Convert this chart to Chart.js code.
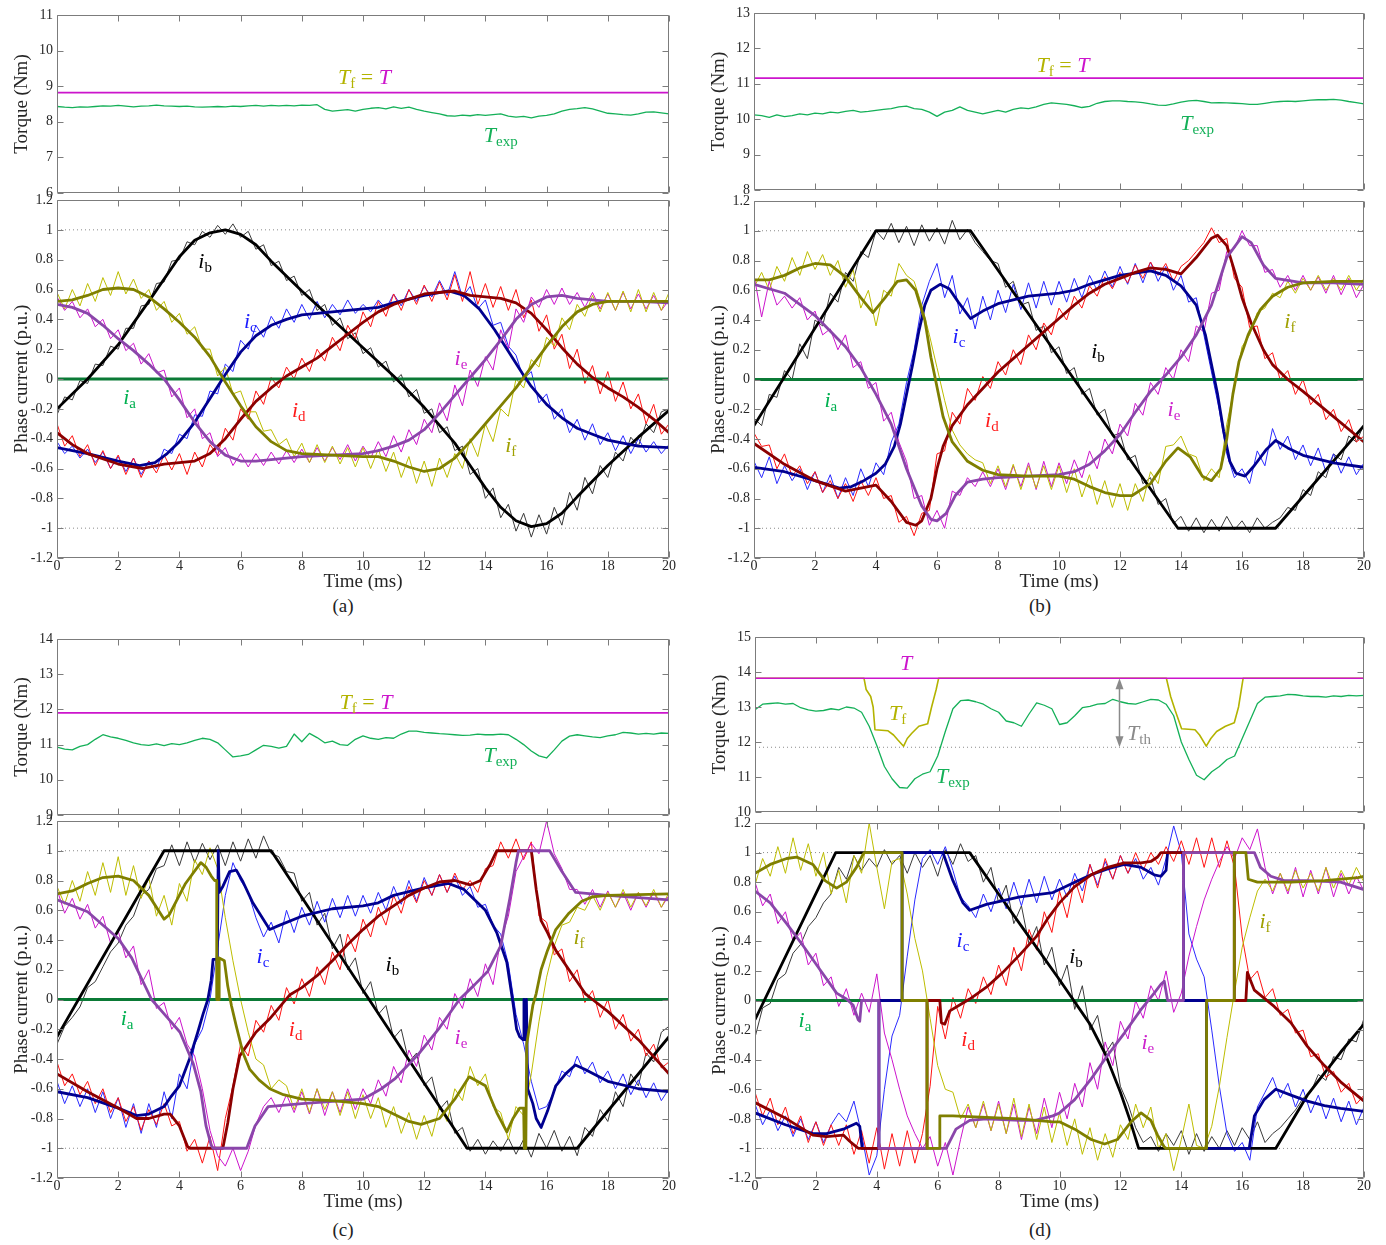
<!DOCTYPE html>
<html>
<head>
<meta charset="utf-8">
<title>Phase currents and torque</title>
<script src="https://cdn.jsdelivr.net/npm/chart.js@4.4.1/dist/chart.umd.min.js"></script>
<style>
  html, body { margin: 0; padding: 0; background: #fff; }
  body { position: relative; width: 1386px; height: 1245px; overflow: hidden; font-family: "Liberation Serif", "Times New Roman", serif; }
  canvas { position: absolute; }
  .caption { position: absolute; font-size: 19px; color: #222; transform: translate(-50%, -50%); }
</style>
</head>
<body>
<div class="caption" style="left:343px; top:606px">(a)</div>
<div class="caption" style="left:1040px; top:606px">(b)</div>
<div class="caption" style="left:343px; top:1230px">(c)</div>
<div class="caption" style="left:1040px; top:1230px">(d)</div>
<script>
// sample times of the measured (noisy) traces, ms
const tFine = [
  0, 0.25, 0.5, 0.75, 1, 1.25, 1.5, 1.75, 2, 2.25,
  2.5, 2.75, 3, 3.25, 3.5, 3.75, 4, 4.25, 4.5, 4.75,
  5, 5.25, 5.5, 5.75, 6, 6.25, 6.5, 6.75, 7, 7.25,
  7.5, 7.75, 8, 8.25, 8.5, 8.75, 9, 9.25, 9.5, 9.75,
  10, 10.25, 10.5, 10.75, 11, 11.25, 11.5, 11.75, 12, 12.25,
  12.5, 12.75, 13, 13.25, 13.5, 13.75, 14, 14.25, 14.5, 14.75,
  15, 15.25, 15.5, 15.75, 16, 16.25, 16.5, 16.75, 17, 17.25,
  17.5, 17.75, 18, 18.25, 18.5, 18.75, 19, 19.25, 19.5, 19.75,
  20
];

// open phase a: zero current in every case
const iaRef = [[0, 0], [20, 0]];
const unitLevels = [1, -1];

// ---------- (a) ----------
const aTorqueRef = 8.82;
const aTexp = [
  8.43, 8.41, 8.40, 8.42, 8.41, 8.43, 8.45, 8.44, 8.46, 8.44,
  8.42, 8.44, 8.45, 8.47, 8.45, 8.44, 8.43, 8.44, 8.42, 8.41,
  8.42, 8.43, 8.42, 8.44, 8.43, 8.45, 8.46, 8.44, 8.46, 8.45,
  8.46, 8.45, 8.47, 8.46, 8.48, 8.35, 8.30, 8.32, 8.34, 8.30,
  8.35, 8.38, 8.40, 8.36, 8.42, 8.38, 8.41, 8.35, 8.30, 8.26,
  8.22, 8.17, 8.16, 8.19, 8.17, 8.20, 8.18, 8.20, 8.22, 8.16,
  8.13, 8.15, 8.11, 8.16, 8.18, 8.22, 8.30, 8.35, 8.37, 8.40,
  8.36, 8.30, 8.24, 8.22, 8.20, 8.19, 8.22, 8.27, 8.28, 8.25,
  8.22
];
const aIbRef = [[0,-0.2],[1,0],[2,0.23],[3,0.52],[4,0.82],[4.5,0.93],[5,0.98],[5.5,1],[6,0.97],[6.5,0.9],[7,0.79],[8,0.59],[9,0.4],[10,0.21],[11,0.02],[12,-0.19],[13,-0.43],[13.5,-0.58],[14,-0.73],[14.5,-0.86],[15,-0.95],[15.5,-0.99],[16,-0.97],[16.5,-0.9],[17,-0.79],[18,-0.58],[19,-0.39],[20,-0.21]];
const aIcRef = [[0,-0.46],[1,-0.5],[2,-0.55],[2.7,-0.58],[3.2,-0.56],[3.6,-0.5],[4,-0.42],[4.5,-0.29],[5,-0.13],[5.5,0.03],[6,0.18],[6.5,0.29],[7,0.36],[7.5,0.4],[8,0.43],[9,0.45],[10,0.47],[10.5,0.48],[11,0.51],[12,0.56],[12.8,0.59],[13.3,0.56],[13.8,0.47],[14.3,0.33],[14.8,0.17],[15.2,0.04],[15.5,-0.05],[16,-0.17],[16.5,-0.26],[17,-0.33],[17.5,-0.37],[18,-0.41],[19,-0.45],[20,-0.46]];
const aIdRef = [[0,-0.36],[0.5,-0.44],[1,-0.5],[2,-0.57],[2.8,-0.6],[3.5,-0.57],[4,-0.56],[4.5,-0.55],[5,-0.5],[5.5,-0.4],[6,-0.27],[6.5,-0.15],[7,-0.06],[7.5,0.02],[8,0.08],[8.5,0.14],[9,0.22],[9.5,0.3],[10,0.38],[10.5,0.45],[11,0.5],[12,0.57],[13,0.59],[13.5,0.56],[14,0.55],[14.5,0.54],[15,0.51],[15.5,0.44],[16,0.33],[16.5,0.21],[17,0.1],[17.5,0.01],[18,-0.06],[18.5,-0.12],[19,-0.19],[19.5,-0.27],[20,-0.36]];
const aIeRef = [[0,0.5],[0.5,0.48],[1,0.44],[1.5,0.36],[2,0.27],[2.5,0.19],[3,0.1],[3.5,0],[4,-0.14],[4.5,-0.29],[5,-0.42],[5.5,-0.51],[6,-0.55],[6.5,-0.55],[7,-0.54],[8,-0.52],[9,-0.51],[10,-0.5],[10.5,-0.48],[11,-0.45],[11.5,-0.41],[12,-0.34],[12.5,-0.23],[13,-0.11],[13.5,0.01],[14,0.13],[14.5,0.26],[15,0.4],[15.5,0.5],[16,0.55],[16.5,0.56],[17,0.54],[18,0.52],[19,0.52],[20,0.51]];
const aIfRef = [[0,0.52],[0.5,0.53],[1,0.56],[1.5,0.6],[2,0.61],[2.5,0.6],[3,0.55],[3.5,0.47],[4,0.38],[4.5,0.28],[5,0.15],[5.5,-0.02],[6,-0.18],[6.5,-0.32],[7,-0.42],[7.5,-0.48],[8,-0.5],[9,-0.51],[10,-0.52],[10.5,-0.52],[11,-0.55],[11.5,-0.59],[12,-0.62],[12.5,-0.6],[13,-0.53],[13.5,-0.42],[14,-0.3],[14.5,-0.18],[15,-0.06],[15.5,0.08],[16,0.22],[16.5,0.35],[17,0.45],[17.5,0.5],[18,0.52],[20,0.52]];
const aIbMeas = [
  -0.24, -0.12, -0.14, -0.01, -0.03, 0.10, 0.09, 0.22, 0.20, 0.34,
  0.34, 0.49, 0.50, 0.64, 0.65, 0.79, 0.80, 0.92, 0.90, 0.99,
  0.95, 1.03, 0.97, 1.04, 0.95, 0.99, 0.87, 0.90, 0.76, 0.79,
  0.66, 0.69, 0.56, 0.60, 0.46, 0.50, 0.36, 0.41, 0.27, 0.31,
  0.17, 0.21, 0.08, 0.12, -0.02, 0.03, -0.12, -0.07, -0.23, -0.20,
  -0.36, -0.32, -0.48, -0.45, -0.64, -0.60, -0.80, -0.73, -0.93, -0.84,
  -1.02, -0.90, -1.06, -0.91, -1.04, -0.86, -0.98, -0.76, -0.88, -0.66,
  -0.77, -0.58, -0.66, -0.49, -0.55, -0.39, -0.45, -0.30, -0.36, -0.22,
  -0.20
];
const aIcMeas = [
  -0.42, -0.50, -0.45, -0.53, -0.47, -0.56, -0.49, -0.60, -0.52, -0.62,
  -0.53, -0.64, -0.55, -0.60, -0.47, -0.50, -0.37, -0.40, -0.24, -0.25,
  -0.08, -0.10, 0.10, 0.05, 0.26, 0.20, 0.36, 0.28, 0.42, 0.34,
  0.47, 0.38, 0.50, 0.40, 0.52, 0.41, 0.50, 0.43, 0.53, 0.44,
  0.50, 0.45, 0.53, 0.47, 0.57, 0.49, 0.60, 0.52, 0.62, 0.55,
  0.66, 0.56, 0.72, 0.55, 0.62, 0.47, 0.53, 0.36, 0.38, 0.22,
  0.16, 0.00, 0.05, -0.16, -0.10, -0.27, -0.20, -0.36, -0.27, -0.41,
  -0.30, -0.44, -0.36, -0.48, -0.38, -0.50, -0.40, -0.49, -0.42, -0.50,
  -0.44
];
const aIdMeas = [
  -0.30, -0.45, -0.38, -0.52, -0.44, -0.58, -0.48, -0.60, -0.51, -0.64,
  -0.53, -0.66, -0.55, -0.63, -0.51, -0.61, -0.50, -0.64, -0.49, -0.59,
  -0.44, -0.51, -0.33, -0.41, -0.20, -0.27, -0.08, -0.17, 0.01, -0.06,
  0.08, 0.00, 0.14, 0.05, 0.20, 0.12, 0.28, 0.19, 0.36, 0.27,
  0.45, 0.35, 0.52, 0.42, 0.57, 0.46, 0.60, 0.50, 0.63, 0.52,
  0.65, 0.53, 0.70, 0.52, 0.72, 0.50, 0.64, 0.48, 0.62, 0.46,
  0.60, 0.41, 0.53, 0.32, 0.43, 0.20, 0.30, 0.07, 0.20, -0.03,
  0.09, -0.10, 0.05, -0.15, -0.02, -0.20, -0.10, -0.30, -0.17, -0.37,
  -0.30
];
const aIeMeas = [
  0.55, 0.46, 0.52, 0.41, 0.47, 0.35, 0.40, 0.27, 0.33, 0.19,
  0.24, 0.10, 0.17, 0.04, 0.06, -0.12, -0.06, -0.26, -0.20, -0.40,
  -0.36, -0.52, -0.46, -0.58, -0.50, -0.59, -0.50, -0.58, -0.49, -0.57,
  -0.48, -0.56, -0.47, -0.56, -0.46, -0.55, -0.46, -0.54, -0.44, -0.55,
  -0.45, -0.53, -0.42, -0.52, -0.38, -0.49, -0.34, -0.44, -0.27, -0.36,
  -0.16, -0.28, -0.04, -0.18, 0.06, -0.05, 0.15, 0.06, 0.33, 0.20,
  0.47, 0.38, 0.55, 0.48, 0.60, 0.50, 0.61, 0.50, 0.58, 0.48,
  0.58, 0.47, 0.57, 0.46, 0.58, 0.47, 0.57, 0.47, 0.56, 0.46,
  0.53
];
const aIfMeas = [
  0.58, 0.47, 0.60, 0.49, 0.64, 0.52, 0.68, 0.56, 0.72, 0.57,
  0.67, 0.54, 0.60, 0.46, 0.52, 0.38, 0.44, 0.30, 0.35, 0.20,
  0.20, 0.02, 0.08, -0.10, -0.08, -0.22, -0.22, -0.35, -0.34, -0.44,
  -0.40, -0.52, -0.43, -0.56, -0.44, -0.56, -0.45, -0.57, -0.46, -0.59,
  -0.46, -0.60, -0.47, -0.62, -0.49, -0.66, -0.52, -0.70, -0.55, -0.72,
  -0.53, -0.66, -0.50, -0.60, -0.40, -0.52, -0.30, -0.42, -0.20, -0.25,
  0.00, -0.06, 0.13, 0.08, 0.28, 0.22, 0.41, 0.33, 0.50, 0.42,
  0.56, 0.45, 0.58, 0.46, 0.59, 0.45, 0.60, 0.45, 0.58, 0.46,
  0.58
];

// ---------- (b) ----------
const bTorqueRef = 11.16;
const bTexp = [
  10.12, 10.10, 10.05, 10.12, 10.07, 10.10, 10.15, 10.12, 10.17, 10.15,
  10.20, 10.18, 10.22, 10.25, 10.20, 10.22, 10.25, 10.28, 10.30, 10.35,
  10.37, 10.30, 10.28, 10.20, 10.08, 10.20, 10.25, 10.35, 10.25, 10.20,
  10.15, 10.20, 10.25, 10.20, 10.28, 10.32, 10.30, 10.35, 10.42, 10.46,
  10.44, 10.42, 10.38, 10.33, 10.36, 10.45, 10.50, 10.52, 10.52, 10.50,
  10.49, 10.47, 10.43, 10.40, 10.39, 10.43, 10.48, 10.52, 10.53, 10.50,
  10.46, 10.47, 10.46, 10.45, 10.44, 10.42, 10.42, 10.45, 10.48, 10.50,
  10.51, 10.50, 10.52, 10.54, 10.55, 10.55, 10.56, 10.54, 10.50, 10.47,
  10.43
];
const bIbRef = [[0,-0.31],[4,1],[7.1,1],[13.9,-1],[17.1,-1],[20,-0.31]];
const bIcRef = [[0,-0.59],[1,-0.62],[2,-0.68],[2.8,-0.73],[3.2,-0.72],[3.6,-0.68],[4,-0.63],[4.3,-0.57],[4.6,-0.45],[4.8,-0.3],[5,-0.1],[5.2,0.1],[5.4,0.32],[5.6,0.5],[5.8,0.6],[6.1,0.64],[6.4,0.61],[6.7,0.52],[7.1,0.41],[7.5,0.46],[8,0.51],[9,0.56],[10,0.58],[10.5,0.6],[11,0.64],[12,0.7],[13,0.73],[13.5,0.7],[14,0.63],[14.5,0.5],[14.8,0.3],[15,0.1],[15.2,-0.1],[15.4,-0.35],[15.6,-0.55],[15.8,-0.63],[16.1,-0.65],[16.4,-0.58],[16.8,-0.47],[17.1,-0.41],[17.5,-0.46],[18,-0.51],[19,-0.56],[20,-0.59]];
const bIdRef = [[0,-0.43],[1,-0.57],[2,-0.68],[3,-0.75],[3.5,-0.73],[4,-0.71],[4.5,-0.82],[5,-0.96],[5.3,-0.98],[5.5,-0.95],[5.8,-0.8],[6,-0.6],[6.2,-0.45],[6.5,-0.31],[7,-0.17],[7.5,-0.06],[8,0.05],[8.5,0.14],[9,0.23],[9.5,0.32],[10,0.41],[10.5,0.5],[11,0.58],[11.5,0.64],[12,0.68],[12.5,0.72],[13,0.75],[13.5,0.74],[14,0.71],[14.5,0.82],[15,0.95],[15.2,0.97],[15.5,0.9],[15.8,0.7],[16,0.55],[16.3,0.38],[16.7,0.2],[17,0.1],[17.5,0],[18,-0.08],[19,-0.25],[20,-0.42]];
const bIeRef = [[0,0.64],[1,0.58],[2,0.43],[3,0.22],[3.5,0.08],[4,-0.1],[4.5,-0.3],[5,-0.6],[5.5,-0.85],[5.8,-0.94],[6,-0.95],[6.3,-0.9],[6.6,-0.78],[7,-0.69],[7.5,-0.67],[8,-0.66],[9,-0.65],[10,-0.64],[10.5,-0.62],[11,-0.57],[11.5,-0.48],[12,-0.37],[12.5,-0.22],[13,-0.08],[13.5,0.03],[14,0.15],[14.5,0.3],[15,0.5],[15.5,0.82],[16,0.96],[16.3,0.92],[16.7,0.77],[17.1,0.68],[18,0.65],[19,0.65],[20,0.64]];
const bIfRef = [[0,0.67],[0.5,0.67],[1,0.7],[1.5,0.75],[2,0.78],[2.5,0.77],[3,0.69],[3.5,0.55],[3.9,0.45],[4.3,0.55],[4.7,0.66],[5,0.67],[5.3,0.6],[5.6,0.4],[5.8,0.15],[6,-0.05],[6.2,-0.25],[6.5,-0.42],[7,-0.55],[7.5,-0.61],[8,-0.64],[9,-0.65],[10,-0.65],[10.5,-0.67],[11,-0.72],[11.5,-0.76],[12,-0.78],[12.4,-0.78],[13,-0.7],[13.5,-0.55],[13.9,-0.46],[14.3,-0.52],[14.7,-0.65],[15,-0.68],[15.3,-0.6],[15.5,-0.4],[15.7,-0.1],[15.9,0.12],[16.2,0.3],[16.6,0.47],[17,0.56],[17.5,0.62],[18,0.65],[19,0.66],[20,0.66]];
const bIbMeas = [
  -0.26, -0.31, -0.10, -0.12, 0.06, 0.00, 0.24, 0.14, 0.40, 0.36,
  0.58, 0.52, 0.72, 0.66, 0.86, 0.82, 1.00, 0.94, 1.05, 0.92,
  1.03, 0.90, 1.04, 0.93, 1.02, 0.91, 1.07, 0.94, 1.01, 0.92,
  0.86, 0.80, 0.78, 0.62, 0.66, 0.50, 0.52, 0.33, 0.36, 0.18,
  0.22, 0.04, 0.08, -0.10, -0.06, -0.24, -0.20, -0.38, -0.36, -0.54,
  -0.51, -0.70, -0.66, -0.84, -0.80, -0.97, -0.92, -1.02, -0.93, -1.03,
  -0.94, -1.02, -0.92, -1.01, -0.95, -1.03, -0.93, -1.00, -0.96, -0.93,
  -0.86, -0.88, -0.74, -0.78, -0.62, -0.66, -0.50, -0.54, -0.38, -0.42,
  -0.30
];
const bIcMeas = [
  -0.55, -0.66, -0.52, -0.70, -0.58, -0.68, -0.60, -0.74, -0.62, -0.76,
  -0.64, -0.80, -0.66, -0.78, -0.60, -0.72, -0.56, -0.64, -0.42, -0.30,
  -0.02, 0.20, 0.50, 0.66, 0.78, 0.55, 0.70, 0.44, 0.55, 0.34,
  0.56, 0.40, 0.60, 0.45, 0.64, 0.47, 0.65, 0.48, 0.66, 0.50,
  0.66, 0.52, 0.68, 0.55, 0.70, 0.60, 0.73, 0.62, 0.76, 0.64,
  0.78, 0.65, 0.79, 0.66, 0.76, 0.60, 0.70, 0.52, 0.55, 0.30,
  0.05, -0.20, -0.50, -0.66, -0.60, -0.70, -0.48, -0.58, -0.33, -0.47,
  -0.38, -0.54, -0.44, -0.58, -0.46, -0.62, -0.50, -0.63, -0.52, -0.64,
  -0.56
];
const bIdMeas = [
  -0.36, -0.45, -0.44, -0.60, -0.50, -0.65, -0.58, -0.70, -0.62, -0.76,
  -0.68, -0.80, -0.70, -0.82, -0.68, -0.78, -0.66, -0.80, -0.78, -0.96,
  -0.92, -1.05, -0.90, -0.88, -0.50, -0.48, -0.22, -0.30, -0.06, -0.14,
  0.02, -0.06, 0.12, 0.03, 0.20, 0.10, 0.30, 0.20, 0.38, 0.30,
  0.48, 0.40, 0.56, 0.48, 0.63, 0.56, 0.69, 0.61, 0.72, 0.65,
  0.77, 0.68, 0.79, 0.70, 0.78, 0.66, 0.76, 0.80, 0.86, 0.92,
  1.02, 0.92, 0.95, 0.68, 0.62, 0.35, 0.36, 0.14, 0.18, 0.00,
  0.06, -0.10, 0.00, -0.17, -0.10, -0.27, -0.20, -0.35, -0.27, -0.42,
  -0.38
];
const bIeMeas = [
  0.70, 0.42, 0.66, 0.50, 0.56, 0.48, 0.55, 0.40, 0.46, 0.30,
  0.34, 0.20, 0.30, 0.08, 0.12, -0.06, -0.02, -0.28, -0.22, -0.42,
  -0.55, -0.80, -0.78, -0.98, -0.88, -1.00, -0.75, -0.78, -0.66, -0.72,
  -0.62, -0.72, -0.60, -0.74, -0.58, -0.72, -0.56, -0.74, -0.55, -0.72,
  -0.56, -0.70, -0.54, -0.66, -0.48, -0.60, -0.40, -0.50, -0.30, -0.38,
  -0.16, -0.24, -0.02, -0.10, 0.08, 0.00, 0.20, 0.12, 0.36, 0.32,
  0.58, 0.60, 0.86, 0.88, 1.00, 0.90, 0.90, 0.72, 0.74, 0.62,
  0.70, 0.60, 0.70, 0.60, 0.69, 0.58, 0.70, 0.57, 0.68, 0.55,
  0.64
];
const bIfMeas = [
  0.62, 0.72, 0.60, 0.76, 0.66, 0.82, 0.70, 0.86, 0.74, 0.84,
  0.70, 0.80, 0.62, 0.74, 0.48, 0.60, 0.36, 0.60, 0.56, 0.78,
  0.70, 0.66, 0.50, 0.30, 0.08, -0.14, -0.34, -0.44, -0.50, -0.54,
  -0.56, -0.70, -0.58, -0.72, -0.57, -0.74, -0.58, -0.73, -0.58, -0.74,
  -0.58, -0.76, -0.60, -0.79, -0.64, -0.84, -0.68, -0.86, -0.70, -0.88,
  -0.70, -0.82, -0.62, -0.70, -0.45, -0.44, -0.38, -0.50, -0.52, -0.68,
  -0.60, -0.66, -0.30, -0.05, 0.22, 0.30, 0.45, 0.48, 0.58, 0.55,
  0.66, 0.58, 0.68, 0.60, 0.70, 0.60, 0.68, 0.60, 0.70, 0.60,
  0.68
];

// ---------- (c) ----------
const cTorqueRef = 11.9;
const cTexp = [
  10.93, 10.87, 10.85, 10.95, 11.00, 11.15, 11.28, 11.22, 11.18, 11.12,
  11.05, 11.00, 10.98, 11.02, 10.97, 11.03, 11.00, 11.05, 11.12, 11.18,
  11.15, 11.05, 10.85, 10.65, 10.68, 10.72, 10.85, 10.98, 10.95, 10.90,
  10.95, 11.30, 11.08, 11.32, 11.20, 11.05, 11.10, 11.00, 10.98, 11.15,
  11.25, 11.18, 11.15, 11.20, 11.18, 11.30, 11.38, 11.38, 11.35, 11.33,
  11.31, 11.30, 11.28, 11.26, 11.27, 11.30, 11.28, 11.28, 11.30, 11.28,
  11.15, 11.00, 10.82, 10.68, 10.62, 10.85, 11.10, 11.24, 11.28, 11.25,
  11.22, 11.20, 11.25, 11.28, 11.35, 11.33, 11.30, 11.32, 11.30, 11.33,
  11.32
];
const cIbRef = [[0,-0.25],[3.5,1],[7,1],[13.4,-1],[17,-1],[20,-0.25]];
const cIcRef = [[0,-0.62],[1,-0.66],[2,-0.73],[2.6,-0.78],[3,-0.77],[3.5,-0.72],[3.7,-0.66],[4,-0.58],[4.33,-0.4],[4.6,-0.22],[4.77,-0.1],[4.93,0],[5.04,0.13],[5.1,0.27],[5.24,0.27],[5.27,1],[5.3,0.72],[5.42,0.76],[5.64,0.86],[5.86,0.87],[6.08,0.79],[6.4,0.65],[6.95,0.47],[7.28,0.5],[8,0.56],[9,0.61],[10,0.63],[10.5,0.65],[11,0.7],[12,0.75],[12.8,0.78],[13.3,0.74],[14,0.6],[14.37,0.45],[14.7,0.25],[14.9,-0.02],[15.02,-0.2],[15.12,-0.25],[15.23,-0.27],[15.26,0],[15.3,-0.27],[15.34,0],[15.38,-0.6],[15.55,-0.7],[15.66,-0.8],[15.82,-0.86],[16.03,-0.75],[16.3,-0.58],[16.62,-0.5],[16.94,-0.44],[17.26,-0.47],[18,-0.55],[19,-0.6],[20,-0.62]];
const cIdRef = [[0,-0.5],[1,-0.62],[2,-0.73],[2.6,-0.8],[3,-0.8],[3.5,-0.77],[3.7,-0.77],[4,-0.85],[4.27,-0.99],[4.35,-1],[5.42,-1],[5.58,-0.83],[5.75,-0.6],[5.97,-0.38],[6.2,-0.31],[6.5,-0.22],[6.95,-0.13],[7.6,0.03],[8,0.08],[8.5,0.16],[9,0.26],[9.5,0.37],[10,0.47],[10.5,0.56],[11,0.63],[11.5,0.7],[12,0.75],[12.5,0.79],[13,0.8],[13.5,0.77],[13.84,0.8],[14.16,0.91],[14.37,1],[15.5,1],[15.66,0.74],[15.82,0.53],[16.03,0.45],[16.3,0.33],[16.73,0.2],[17.26,0.04],[17.5,0],[18,-0.08],[19,-0.27],[20,-0.5]];
const cIeRef = [[0,0.67],[1,0.59],[2,0.41],[2.44,0.28],[3.09,0],[3.6,-0.12],[4.02,-0.22],[4.45,-0.43],[4.7,-0.62],[4.87,-0.85],[5.04,-0.98],[5.1,-1],[6.2,-1],[6.47,-0.85],[6.9,-0.72],[8,-0.7],[10,-0.67],[10.6,-0.6],[11.06,-0.53],[11.8,-0.37],[12.5,-0.19],[13.15,0],[13.65,0.1],[14.08,0.19],[14.5,0.36],[14.8,0.68],[15,0.92],[15.08,1],[16.1,1],[16.5,0.86],[16.95,0.72],[18,0.7],[20,0.67]];
const cIfRef = [[0,0.71],[0.5,0.73],[1,0.78],[1.5,0.82],[2,0.83],[2.5,0.8],[3,0.7],[3.5,0.54],[3.67,0.57],[4.2,0.78],[4.7,0.92],[4.87,0.89],[5.04,0.83],[5.15,0.8],[5.22,0.8],[5.22,0],[5.3,0],[5.3,0.28],[5.47,0.26],[5.58,0.09],[5.7,-0.04],[5.86,-0.18],[6.08,-0.36],[6.3,-0.47],[6.6,-0.54],[6.95,-0.6],[7.4,-0.64],[8,-0.67],[9,-0.68],[10,-0.7],[10.5,-0.72],[11,-0.77],[11.5,-0.82],[11.9,-0.84],[12.5,-0.8],[13,-0.67],[13.47,-0.52],[14,-0.58],[14.37,-0.76],[14.7,-0.89],[14.9,-0.8],[15.12,-0.73],[15.25,-0.73],[15.27,-1],[15.32,-1],[15.35,-0.3],[15.55,-0.04],[15.66,0.04],[15.82,0.2],[16.03,0.33],[16.3,0.47],[16.73,0.58],[17.15,0.66],[17.5,0.69],[18,0.7],[20,0.71]];
const cIbMeas = [
  -0.30, -0.18, -0.12, -0.05, 0.08, 0.12, 0.22, 0.32, 0.38, 0.50,
  0.56, 0.70, 0.74, 0.88, 0.90, 1.04, 0.90, 1.06, 0.92, 1.05,
  0.94, 1.04, 0.90, 1.06, 0.93, 1.08, 0.95, 1.10, 0.98, 0.96,
  0.86, 0.85, 0.66, 0.72, 0.50, 0.58, 0.34, 0.44, 0.20, 0.28,
  0.04, 0.12, -0.10, -0.04, -0.26, -0.20, -0.42, -0.36, -0.58, -0.52,
  -0.74, -0.68, -0.90, -0.86, -1.02, -0.94, -1.04, -0.95, -1.02, -0.93,
  -1.04, -0.94, -1.06, -0.90, -1.00, -0.88, -1.02, -0.92, -1.05, -0.86,
  -0.92, -0.74, -0.82, -0.62, -0.72, -0.50, -0.58, -0.36, -0.42, -0.22,
  -0.18
];
const cIcMeas = [
  -0.55, -0.70, -0.58, -0.72, -0.60, -0.76, -0.62, -0.80, -0.66, -0.86,
  -0.70, -0.90, -0.70, -0.86, -0.62, -0.80, -0.50, -0.60, -0.30, -0.20,
  0.00, 0.35, 0.70, 0.92, 0.80, 0.72, 0.55, 0.42, 0.52, 0.38,
  0.60, 0.45, 0.62, 0.50, 0.66, 0.52, 0.68, 0.55, 0.70, 0.56,
  0.70, 0.58, 0.72, 0.60, 0.76, 0.64, 0.80, 0.66, 0.82, 0.70,
  0.84, 0.72, 0.83, 0.70, 0.76, 0.62, 0.64, 0.50, 0.44, 0.24,
  -0.10, -0.30, -0.55, -0.74, -0.72, -0.62, -0.48, -0.52, -0.38, -0.50,
  -0.42, -0.56, -0.48, -0.60, -0.50, -0.64, -0.54, -0.66, -0.56, -0.68,
  -0.60
];
const cIdMeas = [
  -0.42, -0.58, -0.50, -0.64, -0.55, -0.70, -0.60, -0.76, -0.66, -0.82,
  -0.72, -0.88, -0.74, -0.84, -0.70, -0.85, -0.82, -1.02, -0.94, -1.10,
  -0.92, -1.15, -0.80, -0.58, -0.30, -0.38, -0.14, -0.22, -0.04, -0.14,
  0.08, -0.03, 0.14, 0.02, 0.22, 0.10, 0.32, 0.20, 0.44, 0.32,
  0.54, 0.42, 0.62, 0.50, 0.70, 0.58, 0.76, 0.65, 0.80, 0.70,
  0.84, 0.72, 0.85, 0.74, 0.80, 0.72, 0.88, 0.90, 1.06, 0.95,
  1.08, 0.94, 1.06, 0.56, 0.52, 0.30, 0.34, 0.12, 0.20, -0.02,
  0.06, -0.12, 0.00, -0.20, -0.10, -0.28, -0.20, -0.38, -0.30, -0.46,
  -0.42
];
const cIeMeas = [
  0.74, 0.58, 0.68, 0.54, 0.64, 0.48, 0.56, 0.38, 0.46, 0.28,
  0.36, 0.10, 0.20, -0.06, -0.02, -0.20, -0.12, -0.30, -0.38, -0.60,
  -0.88, -1.05, -1.12, -1.00, -1.15, -1.02, -0.84, -0.72, -0.66, -0.76,
  -0.64, -0.76, -0.62, -0.77, -0.60, -0.78, -0.62, -0.76, -0.60, -0.74,
  -0.60, -0.70, -0.54, -0.65, -0.45, -0.56, -0.34, -0.45, -0.24, -0.34,
  -0.12, -0.20, 0.04, -0.06, 0.14, 0.02, 0.24, 0.10, 0.40, 0.56,
  0.86, 0.96, 1.05, 0.98, 1.20, 0.98, 0.88, 0.74, 0.74, 0.64,
  0.74, 0.62, 0.73, 0.62, 0.72, 0.60, 0.72, 0.62, 0.72, 0.62,
  0.70
];
const cIfMeas = [
  0.76, 0.64, 0.80, 0.66, 0.86, 0.70, 0.92, 0.72, 0.96, 0.70,
  0.90, 0.68, 0.82, 0.56, 0.70, 0.50, 0.78, 0.66, 0.94, 0.84,
  1.02, 0.88, 0.55, 0.26, 0.00, -0.22, -0.40, -0.44, -0.60, -0.54,
  -0.58, -0.74, -0.60, -0.76, -0.60, -0.74, -0.62, -0.78, -0.62, -0.80,
  -0.64, -0.80, -0.66, -0.86, -0.72, -0.90, -0.76, -0.94, -0.78, -0.92,
  -0.72, -0.82, -0.60, -0.68, -0.45, -0.58, -0.50, -0.72, -0.76, -0.94,
  -0.72, -0.78, -0.50, -0.15, 0.15, 0.36, 0.50, 0.52, 0.62, 0.60,
  0.70, 0.60, 0.72, 0.62, 0.74, 0.62, 0.72, 0.63, 0.74, 0.62,
  0.72
];

// ---------- (d) ----------
const dTorqueRef = 13.82;
const dTorqueThreshold = 11.85;
const dTf = [[0,13.82],[3.58,13.82],[3.65,13.5],[3.8,13.3],[3.88,13.0],[3.94,12.35],[4.37,12.32],[4.55,12.2],[4.7,12.05],[4.88,11.88],[5.0,12.1],[5.15,12.25],[5.38,12.45],[5.67,12.52],[5.8,13.0],[5.95,13.5],[6.03,13.82],[13.51,13.82],[13.65,13.3],[13.8,12.9],[14.01,12.38],[14.45,12.35],[14.6,12.2],[14.82,11.88],[14.97,12.1],[15.16,12.3],[15.45,12.45],[15.74,12.55],[15.88,13.0],[16.03,13.82],[20,13.82]];
const dTexp = [
  12.92, 13.08, 13.10, 13.12, 13.08, 13.10, 12.98, 12.92, 12.88, 12.90,
  12.95, 12.92, 13.00, 12.97, 12.85, 12.45, 11.90, 11.30, 10.95, 10.70,
  10.68, 10.95, 11.08, 11.15, 11.60, 12.30, 12.95, 13.18, 13.20, 13.15,
  13.08, 12.95, 12.85, 12.60, 12.55, 12.45, 12.80, 13.12, 13.05, 12.95,
  12.50, 12.55, 12.75, 12.98, 13.02, 13.08, 13.10, 13.22, 13.15, 13.10,
  13.08, 13.15, 13.22, 13.20, 13.08, 12.75, 12.00, 11.50, 11.05, 10.92,
  11.15, 11.30, 11.50, 11.60, 12.10, 12.60, 13.10, 13.28, 13.30, 13.32,
  13.36, 13.35, 13.32, 13.30, 13.30, 13.28, 13.32, 13.30, 13.33, 13.32,
  13.33
];
const dIbRef = [[0,-0.13],[2.65,1],[7.05,1],[8,0.72],[9,0.43],[10,0.14],[11,-0.16],[11.5,-0.36],[12,-0.62],[12.3,-0.8],[12.6,-1],[17.1,-1],[18.14,-0.64],[19.23,-0.35],[20,-0.16]];
const dIcRef = [[0,-0.76],[1,-0.84],[1.9,-0.9],[2.35,-0.9],[2.9,-0.87],[3.33,-0.83],[3.44,-0.85],[3.52,-1],[4.07,-1],[4.07,0],[4.83,0],[4.83,1],[6.17,1],[6.5,0.81],[6.83,0.66],[7.05,0.61],[7.6,0.65],[8.7,0.7],[9.78,0.73],[10,0.75],[10.5,0.8],[11.04,0.85],[11.58,0.89],[12.13,0.92],[12.68,0.9],[13.11,0.85],[13.33,0.84],[13.5,0.88],[13.55,1],[14.07,1],[14.07,0],[14.83,0],[14.83,-1],[16.23,-1],[16.4,-0.78],[16.72,-0.67],[17.1,-0.6],[17.6,-0.64],[18.14,-0.68],[18.7,-0.71],[19.23,-0.73],[20,-0.75]];
const dIdRef = [[0,-0.69],[1.04,-0.8],[1.9,-0.91],[2.35,-0.92],[2.9,-0.91],[3.1,-0.95],[3.33,-0.99],[3.4,-1],[5.65,-1],[5.65,0],[6.07,0],[6.12,-0.15],[6.23,-0.16],[6.4,-0.07],[6.72,-0.03],[7.05,0.01],[7.6,0.09],[8.14,0.19],[8.7,0.31],[9.23,0.43],[9.6,0.55],[10,0.66],[10.5,0.77],[11.04,0.85],[11.58,0.9],[12.13,0.93],[12.68,0.93],[13,0.94],[13.22,0.97],[13.33,1],[15.74,1],[15.74,0],[16.12,0],[16.17,0.19],[16.4,0.07],[17.05,-0.04],[17.6,-0.15],[18.14,-0.31],[18.7,-0.44],[19.23,-0.55],[20,-0.68]];
const dIeRef = [[0,0.74],[0.5,0.66],[1.04,0.52],[1.58,0.37],[2.13,0.21],[2.68,0.05],[3,0.01],[3.22,-0.03],[3.39,-0.13],[3.44,-0.14],[3.5,0],[4.07,0],[4.07,-1],[6.28,-1],[6.6,-0.87],[7.05,-0.81],[7.6,-0.8],[8.7,-0.81],[9.2,-0.81],[9.78,-0.78],[10,-0.76],[10.5,-0.67],[11.04,-0.53],[11.58,-0.37],[12.13,-0.22],[12.68,-0.06],[13.11,0.05],[13.33,0.11],[13.44,0.13],[13.55,0],[14.07,0],[14.07,1],[16.4,1],[16.6,0.9],[16.94,0.84],[17.38,0.81],[18.14,0.81],[19.23,0.8],[20,0.75]];
const dIfRef = [[0,0.86],[0.5,0.92],[1.04,0.96],[1.37,0.97],[1.9,0.92],[2.3,0.81],[2.68,0.76],[3,0.8],[3.33,0.9],[3.55,0.99],[3.6,1],[4.83,1],[4.83,0],[5.65,0],[5.65,-1],[6.07,-1],[6.07,-0.78],[6.5,-0.78],[7.6,-0.79],[8.7,-0.8],[9.78,-0.82],[10,-0.82],[10.5,-0.87],[11.04,-0.94],[11.48,-0.97],[11.9,-0.94],[12.35,-0.82],[12.68,-0.76],[13,-0.81],[13.22,-0.91],[13.44,-0.99],[13.5,-1],[14.83,-1],[14.83,0],[15.74,0],[15.74,1],[16.12,1],[16.2,0.82],[16.5,0.8],[17.6,0.8],[18.7,0.81],[19.8,0.83],[20,0.84]];
const dIbMeas = [
  -0.25, -0.05, -0.02, 0.14, 0.18, 0.32, 0.38, 0.50, 0.56, 0.66,
  0.72, 0.90, 0.82, 0.98, 0.88, 0.96, 0.90, 1.02, 0.92, 0.98,
  0.86, 1.00, 0.90, 0.98, 0.84, 1.02, 0.92, 1.06, 0.94, 0.98,
  0.80, 0.90, 0.66, 0.78, 0.52, 0.64, 0.38, 0.50, 0.24, 0.36,
  0.10, 0.24, -0.06, 0.10, -0.20, -0.10, -0.36, -0.28, -0.58, -0.70,
  -0.86, -0.96, -0.92, -1.02, -0.90, -0.98, -0.88, -1.04, -0.90, -1.02,
  -0.92, -1.00, -0.88, -0.98, -0.86, -0.94, -0.82, -0.96, -0.90, -0.86,
  -0.80, -0.74, -0.66, -0.62, -0.50, -0.54, -0.38, -0.40, -0.26, -0.28,
  -0.12
];
const dIcMeas = [
  -0.70, -0.84, -0.74, -0.88, -0.78, -0.92, -0.80, -0.94, -0.82, -0.96,
  -0.84, -0.76, -0.82, -0.68, -0.90, -1.18, -1.05, -0.60, -0.24, -0.10,
  0.30, 0.68, 0.96, 1.02, 0.92, 1.04, 0.88, 0.70, 0.64, 0.56,
  0.72, 0.60, 0.76, 0.62, 0.80, 0.64, 0.82, 0.66, 0.84, 0.68,
  0.82, 0.70, 0.86, 0.74, 0.92, 0.78, 0.94, 0.82, 0.98, 0.86,
  0.96, 0.82, 0.90, 0.78, 0.96, 1.18, 1.00, 0.45, 0.28, 0.16,
  -0.20, -0.58, -0.90, -1.02, -0.96, -1.08, -0.72, -0.62, -0.52, -0.66,
  -0.56, -0.72, -0.60, -0.76, -0.64, -0.80, -0.66, -0.82, -0.68, -0.84,
  -0.72
];
const dIdMeas = [
  -0.62, -0.78, -0.66, -0.84, -0.72, -0.90, -0.78, -0.96, -0.82, -0.98,
  -0.84, -0.98, -0.84, -1.04, -0.88, -1.10, -0.86, -1.14, -0.90, -1.12,
  -0.88, -1.10, -0.90, -0.58, -0.04, -0.26, 0.02, -0.12, 0.08, -0.02,
  0.16, 0.04, 0.24, 0.10, 0.36, 0.20, 0.48, 0.34, 0.60, 0.46,
  0.74, 0.56, 0.82, 0.66, 0.92, 0.76, 0.96, 0.82, 0.98, 0.86,
  1.00, 0.88, 1.00, 0.92, 1.04, 0.94, 1.08, 0.92, 1.10, 0.90,
  1.10, 0.90, 1.08, 0.90, 0.43, 0.14, 0.20, 0.02, 0.08, -0.10,
  -0.06, -0.22, -0.20, -0.38, -0.36, -0.52, -0.48, -0.62, -0.56, -0.70,
  -0.64
];
const dIeMeas = [
  0.80, 0.64, 0.72, 0.52, 0.60, 0.40, 0.46, 0.24, 0.32, 0.10,
  0.16, -0.04, 0.08, -0.10, 0.05, -0.08, 0.18, -0.22, -0.40, -0.60,
  -0.78, -0.90, -1.00, -0.92, -1.12, -0.96, -1.18, -0.94, -0.72, -0.86,
  -0.70, -0.88, -0.68, -0.90, -0.70, -0.94, -0.72, -0.90, -0.66, -0.86,
  -0.62, -0.80, -0.56, -0.72, -0.42, -0.60, -0.28, -0.44, -0.14, -0.26,
  0.00, -0.12, 0.10, 0.00, 0.20, -0.08, 0.05, 0.30, 0.50, 0.68,
  0.82, 0.94, 1.04, 0.96, 1.10, 1.02, 1.16, 0.90, 0.72, 0.86,
  0.72, 0.90, 0.70, 0.88, 0.72, 0.90, 0.70, 0.86, 0.72, 0.84,
  0.74
];
const dIfMeas = [
  0.78, 0.96, 0.84, 1.04, 0.86, 1.10, 0.88, 1.06, 0.84, 1.00,
  0.72, 0.88, 0.66, 0.98, 0.86, 1.20, 0.90, 0.62, 0.94, 0.96,
  0.72, 0.42, 0.20, -0.12, -0.44, -0.60, -0.62, -0.80, -0.70, -0.86,
  -0.68, -0.88, -0.70, -0.90, -0.66, -0.92, -0.70, -0.94, -0.72, -0.96,
  -0.76, -0.98, -0.80, -1.04, -0.86, -1.08, -0.90, -1.06, -0.84, -0.94,
  -0.70, -0.86, -0.72, -1.00, -0.90, -1.15, -0.94, -0.70, -0.98, -1.00,
  -0.85, -0.58, -0.25, 0.06, 0.36, 0.56, 0.74, 0.82, 0.74, 0.86,
  0.74, 0.88, 0.76, 0.86, 0.74, 0.90, 0.76, 0.88, 0.78, 0.90,
  0.80
];

// ---------- styling ----------
const SERIF = '"Liberation Serif", "Times New Roman", Times, serif';
const AXIS = '#7c7c7c';
const TEXT = '#262626';
const COL = {
  ia: '#0b7a36', ib: '#000000', ic: '#00008f', id: '#8b0000', ie: '#8a46aa', if: '#7f7f00',
  ibM: '#3a3a3a', icM: '#2a2aff', idM: '#ff1414', ieM: '#cc14cc', ifM: '#bdbd00',
  texp: '#14b058', tref: '#cc14cc', tf: '#b3b300', th: '#8a8a8a', dot: '#8a8a8a'
};
const TAG_COL = ['#00b050', '#000000', '#1a1aff', '#ff1a1a', '#cc22cc', '#a0a000'];

const pair = (ts, vs) => ts.map((t, i) => [t, vs[i]]);
const level = v => [[0, v], [20, v]];
const fmt = v => { const r = Math.round(v * 10) / 10; return r === 0 ? '0' : String(r); };
const tagFont = kind => kind === 'it' ? `italic 22px ${SERIF}` : kind === 'sub' ? `15px ${SERIF}` : `22px ${SERIF}`;

const line = (data, color, width, order, dash) => ({
  data, borderColor: color, borderWidth: width, order, borderDash: dash || [],
  pointRadius: 0, fill: false, tension: 0
});

// box with inward tick marks on all four sides, like the original axes
const framePlugin = {
  id: 'frame',
  afterDatasetsDraw(chart) {
    const { ctx, chartArea: a, scales: { x, y } } = chart;
    const L = Math.round(a.left) + 0.5, R = Math.round(a.right) - 0.5;
    const T = Math.round(a.top) + 0.5, B = Math.round(a.bottom) - 0.5;
    ctx.save();
    ctx.strokeStyle = AXIS;
    ctx.lineWidth = 1;
    ctx.beginPath();
    ctx.rect(L, T, R - L, B - T);
    x.ticks.forEach(tk => {
      const p = Math.round(x.getPixelForValue(tk.value)) + 0.5;
      ctx.moveTo(p, B); ctx.lineTo(p, B - 6);
      ctx.moveTo(p, T); ctx.lineTo(p, T + 6);
    });
    y.ticks.forEach(tk => {
      const p = Math.round(y.getPixelForValue(tk.value)) + 0.5;
      ctx.moveTo(L, p); ctx.lineTo(L + 6, p);
      ctx.moveTo(R, p); ctx.lineTo(R - 6, p);
    });
    ctx.stroke();
    ctx.restore();
  }
};

// italic symbol labels (i_a, T_exp, ...) and the T_th arrow, placed in data units
function tagPlugin(tags, arrows) {
  return {
    id: 'tags',
    afterDatasetsDraw(chart) {
      const { ctx, scales: { x, y } } = chart;
      ctx.save();
      arrows.forEach(ar => {
        const px = Math.round(x.getPixelForValue(ar.t)) + 0.5;
        const p1 = y.getPixelForValue(ar.from), p2 = y.getPixelForValue(ar.to);
        ctx.strokeStyle = ar.color; ctx.fillStyle = ar.color; ctx.lineWidth = 1.5;
        ctx.beginPath(); ctx.moveTo(px, p1 + 6); ctx.lineTo(px, p2 - 6); ctx.stroke();
        [[p1, 1], [p2, -1]].forEach(([p, d]) => {
          ctx.beginPath();
          ctx.moveTo(px, p); ctx.lineTo(px - 4, p + d * 11); ctx.lineTo(px + 4, p + d * 11);
          ctx.closePath(); ctx.fill();
        });
      });
      ctx.textBaseline = 'alphabetic';
      tags.forEach(tag => {
        const segs = tag.parts.map(([txt, kind, color]) => {
          ctx.font = tagFont(kind);
          return { txt, kind, color, w: ctx.measureText(txt).width };
        });
        let cx = x.getPixelForValue(tag.t) - segs.reduce((s, g) => s + g.w, 0) / 2;
        const cy = y.getPixelForValue(tag.v);
        segs.forEach(g => {
          ctx.font = tagFont(g.kind);
          ctx.fillStyle = g.color;
          ctx.fillText(g.txt, cx, cy + (g.kind === 'sub' ? 11 : 7));
          cx += g.w;
        });
      });
      ctx.restore();
    }
  };
}

function addCanvas(left, top, w, h) {
  const c = document.createElement('canvas');
  c.width = w; c.height = h;
  c.style.left = left + 'px'; c.style.top = top + 'px';
  c.style.width = w + 'px'; c.style.height = h + 'px';
  document.body.appendChild(c);
  return c;
}

function makePlot({ left, right, top, bottom, padBottom, yMin, yMax, yStep, yTitle, xLabels, datasets, tags, arrows }) {
  const padL = 57, padR = 12, padT = 12;
  const canvas = addCanvas(left - padL, top - padT, right - left + padL + padR, bottom - top + padT + padBottom);
  return new Chart(canvas, {
    type: 'line',
    data: { datasets },
    options: {
      responsive: false, animation: false, devicePixelRatio: 1, events: [],
      layout: { padding: { top: padT, right: padR, left: 0, bottom: 0 } },
      plugins: { legend: { display: false }, tooltip: { enabled: false } },
      elements: { point: { radius: 0 }, line: { borderCapStyle: 'butt', borderJoinStyle: 'round' } },
      scales: {
        x: {
          type: 'linear', min: 0, max: 20,
          ticks: { stepSize: 2, display: xLabels, autoSkip: false, maxRotation: 0, padding: 0, color: TEXT, font: { family: SERIF, size: 14 } },
          grid: { display: false, drawTicks: false }, border: { display: false },
          title: { display: xLabels, text: 'Time (ms)', color: TEXT, font: { family: SERIF, size: 19 }, padding: { top: 0, bottom: 4.6 } },
          afterFit: s => { s.height = padBottom; s.paddingLeft = 0; s.paddingRight = 0; }
        },
        y: {
          type: 'linear', min: yMin, max: yMax,
          ticks: { stepSize: yStep, autoSkip: false, padding: 4, color: TEXT, font: { family: SERIF, size: 14 }, callback: v => fmt(v) },
          grid: { display: false, drawTicks: false }, border: { display: false },
          title: { display: true, text: yTitle, color: TEXT, font: { family: SERIF, size: 19 }, padding: { top: 10.6, bottom: 0 } },
          afterFit: s => { s.width = padL; s.paddingTop = 0; s.paddingBottom = 0; }
        }
      }
    },
    plugins: [framePlugin, tagPlugin(tags || [], arrows || [])]
  });
}

const sym = (main, sub, color) => [[main, 'it', color], [sub, 'sub', color]];
const phaseTags = pos => ['a', 'b', 'c', 'd', 'e', 'f'].map((k, i) => ({ t: pos[i][0], v: pos[i][1], parts: sym('i', k, TAG_COL[i]) }));
const tfEqualsT = (t, v) => ({ t, v, parts: [['T', 'it', COL.tf], ['f', 'sub', COL.tf], [' = ', 'rm', COL.tf], ['T', 'it', COL.tref]] });
const texpTag = (t, v) => ({ t, v, parts: sym('T', 'exp', COL.texp) });

function currentSets(refs, meas) {
  const [b, c, d, e, f] = refs;
  const [bm, cm, dm, em, fm] = meas;
  return [
    ...unitLevels.map(u => line(level(u), COL.dot, 1, 40, [1, 3])),
    line(pair(tFine, bm), COL.ibM, 1, 25),
    line(pair(tFine, cm), COL.icM, 1, 24),
    line(pair(tFine, dm), COL.idM, 1, 23),
    line(pair(tFine, em), COL.ieM, 1, 22),
    line(pair(tFine, fm), COL.ifM, 1, 21),
    line(iaRef, COL.ia, 3, 9),
    line(b, COL.ib, 2.8, 8),
    line(c, COL.ic, 2.8, 7),
    line(d, COL.id, 2.8, 6),
    line(e, COL.ie, 2.8, 5),
    line(f, COL.if, 2.8, 4)
  ];
}

const panels = [
  { left: 57, right: 669, torque: [15, 193], current: [200, 558], tRange: [6, 11],
    tref: aTorqueRef, texp: aTexp, refs: [aIbRef, aIcRef, aIdRef, aIeRef, aIfRef], meas: [aIbMeas, aIcMeas, aIdMeas, aIeMeas, aIfMeas],
    curTags: phaseTags([[2.37, -0.12], [4.84, 0.79], [6.32, 0.39], [7.9, -0.21], [13.2, 0.14], [14.83, -0.44]]),
    tqTags: [tfEqualsT(10.05, 9.26), texpTag(14.5, 7.63)] },
  { left: 754, right: 1364, torque: [13, 190], current: [201, 558], tRange: [8, 13],
    tref: bTorqueRef, texp: bTexp, refs: [bIbRef, bIcRef, bIdRef, bIeRef, bIfRef], meas: [bIbMeas, bIcMeas, bIdMeas, bIeMeas, bIfMeas],
    curTags: phaseTags([[2.52, -0.14], [11.28, 0.19], [6.72, 0.29], [7.8, -0.27], [13.77, -0.2], [17.57, 0.39]]),
    tqTags: [tfEqualsT(10.13, 11.53), texpTag(14.53, 9.89)] },
  { left: 57, right: 669, torque: [639, 815], current: [821, 1178], tRange: [9, 14],
    tref: cTorqueRef, texp: cTexp, refs: [cIbRef, cIcRef, cIdRef, cIeRef, cIfRef], meas: [cIbMeas, cIcMeas, cIdMeas, cIeMeas, cIfMeas],
    curTags: phaseTags([[2.29, -0.125], [10.96, 0.24], [6.73, 0.29], [7.8, -0.2], [13.2, -0.25], [17.06, 0.42]]),
    tqTags: [tfEqualsT(10.1, 12.21), texpTag(14.49, 10.7)] },
  { left: 755, right: 1364, torque: [637, 812], current: [823, 1178], tRange: [10, 15],
    tref: dTorqueRef, texp: dTexp, tf: dTf, threshold: dTorqueThreshold,
    refs: [dIbRef, dIcRef, dIdRef, dIeRef, dIfRef], meas: [dIbMeas, dIcMeas, dIdMeas, dIeMeas, dIfMeas],
    curTags: phaseTags([[1.64, -0.13], [10.54, 0.3], [6.83, 0.41], [7.0, -0.26], [12.9, -0.28], [16.75, 0.54]]),
    tqTags: [{ t: 4.96, v: 14.25, parts: [['T', 'it', COL.tref]] },
             { t: 4.68, v: 12.83, parts: sym('T', 'f', COL.tf) },
             texpTag(6.5, 11.03),
             { t: 12.61, v: 12.26, parts: sym('T', 'th', COL.th) }],
    arrows: [{ t: 11.95, from: dTorqueRef, to: dTorqueThreshold, color: COL.th }] }
];

panels.forEach(p => {
  const tqSets = [];
  if (p.threshold) tqSets.push(line(level(p.threshold), COL.dot, 1, 40, [1, 3]));
  tqSets.push(line(pair(tFine, p.texp), COL.texp, 1.3, 6));
  if (p.tf) tqSets.push(line(p.tf, COL.tf, 1.6, 5));
  tqSets.push(line(level(p.tref), COL.tref, 1.6, 4));

  makePlot({
    left: p.left, right: p.right, top: p.torque[0], bottom: p.torque[1], padBottom: 6,
    yMin: p.tRange[0], yMax: p.tRange[1], yStep: 1, yTitle: 'Torque (Nm)', xLabels: false,
    datasets: tqSets, tags: p.tqTags, arrows: p.arrows
  });
  makePlot({
    left: p.left, right: p.right, top: p.current[0], bottom: p.current[1], padBottom: 40,
    yMin: -1.2, yMax: 1.2, yStep: 0.2, yTitle: 'Phase current (p.u.)', xLabels: true,
    datasets: currentSets(p.refs, p.meas), tags: p.curTags
  });
});
</script>
</body>
</html>
